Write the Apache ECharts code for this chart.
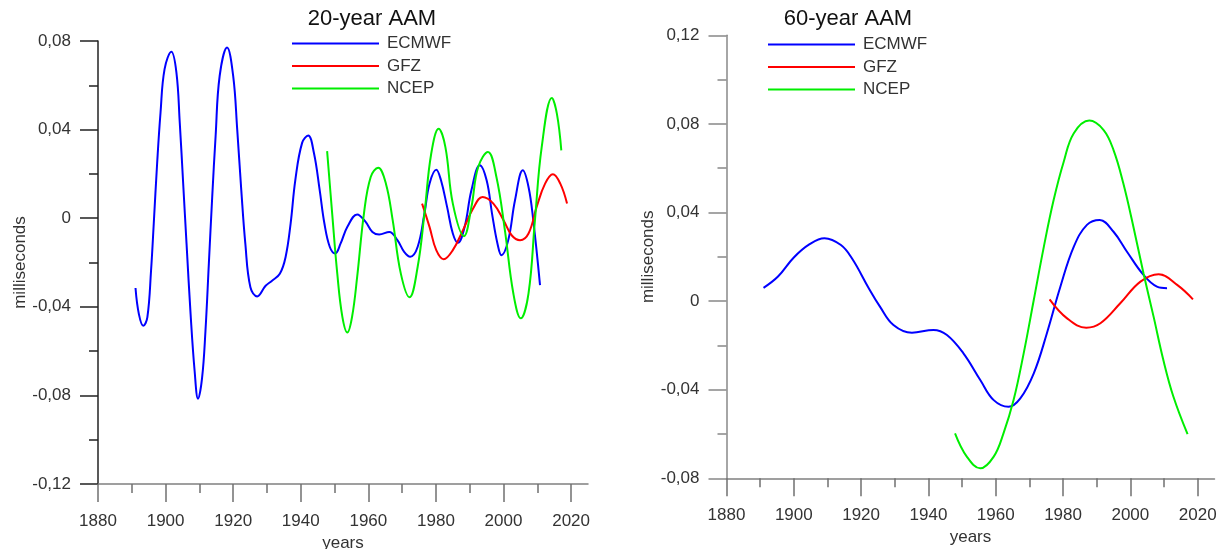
<!DOCTYPE html>
<html>
<head>
<meta charset="utf-8">
<title>AAM</title>
<script src="https://cdn.jsdelivr.net/npm/echarts@6/dist/echarts.min.js"></script>
<style>
  html, body { margin: 0; padding: 0; background: #fff; }
  #chart-wrapper { width: 1223px; height: 549px; }
</style>
</head>
<body>
<div id="chart-wrapper"></div>
<script>
// [year, milliseconds]
let ecmwf20 = [
  [1891.1, -0.0315], [1892.1, -0.0433], [1893.4, -0.0486], [1894.6, -0.0448], [1895.7, -0.0236],
  [1896.5, -0.0024], [1897.5, 0.0248], [1898.5, 0.0476], [1899.7, 0.0673], [1901.7, 0.0751],
  [1903.2, 0.0658], [1904.2, 0.043], [1905.2, 0.0158], [1906.2, -0.0115], [1907.4, -0.0433],
  [1908.6, -0.0691], [1909.6, -0.0815], [1910.8, -0.0721], [1911.8, -0.0509], [1912.8, -0.0206],
  [1913.8, 0.0097], [1914.8, 0.037], [1916.0, 0.0642], [1918.2, 0.0771], [1920.0, 0.0642],
  [1921.2, 0.04], [1922.4, 0.0127], [1923.6, -0.0115], [1925.1, -0.0312], [1927.1, -0.0353],
  [1929.6, -0.0305], [1931.5, -0.0282], [1933.8, -0.0251], [1935.5, -0.0176], [1937.0, -0.0024],
  [1938.4, 0.0173], [1940.4, 0.034], [1942.2, 0.0373], [1943.9, 0.0294], [1945.6, 0.0127],
  [1947.0, -0.0024], [1948.6, -0.013], [1950.2, -0.0159], [1951.8, -0.0114], [1953.8, -0.0039],
  [1956.7, 0.0017], [1959.2, -0.0017], [1961.2, -0.0062], [1963.2, -0.0074], [1966.2, -0.0062],
  [1968.6, -0.0099], [1970.6, -0.0152], [1972.4, -0.0174], [1974.6, -0.0129], [1976.6, 0.0021],
  [1978.1, 0.0156], [1980.1, 0.0219], [1981.5, 0.0171], [1983.3, 0.0051], [1985.0, -0.0069],
  [1986.5, -0.0111], [1988.5, -0.0039], [1990.5, 0.0126], [1993.0, 0.0239], [1995.0, 0.0171],
  [1996.6, 0.0021], [1998.2, -0.0114], [1999.4, -0.0167], [2001.4, -0.0099], [2003.4, 0.0081],
  [2005.7, 0.0216], [2007.4, 0.0141], [2008.8, -0.0009], [2010.8, -0.0302]
]
let gfz20 = [
  [1975.9, 0.0066], [1978.1, -0.0039], [1980.1, -0.0144], [1982.3, -0.0185], [1985.0, -0.0144],
  [1988.0, -0.0054], [1991.0, 0.0044], [1993.8, 0.0096], [1997.0, 0.0066], [2000.0, -0.0009],
  [2002.4, -0.0077], [2004.9, -0.0099], [2007.4, -0.0069], [2009.8, 0.0051], [2012.3, 0.0156],
  [2014.6, 0.0198], [2016.8, 0.0156], [2018.8, 0.0066]
]
let ncep20 = [
  [1947.8, 0.0303], [1949.3, 0.0021], [1950.8, -0.0249], [1952.3, -0.0444], [1953.8, -0.0516],
  [1955.2, -0.0444], [1956.7, -0.0264], [1958.7, 0.0021], [1960.7, 0.0186], [1962.9, 0.0228],
  [1965.2, 0.0156], [1967.2, -0.0009], [1969.6, -0.0249], [1972.2, -0.0357], [1974.6, -0.0219],
  [1976.6, 0.0021], [1978.6, 0.0291], [1980.8, 0.0404], [1982.8, 0.0321], [1985.0, 0.0066],
  [1988.3, -0.0081], [1990.5, 0.0051], [1992.5, 0.0231], [1995.4, 0.0299], [1997.9, 0.0186],
  [2000.4, -0.0054], [2002.9, -0.0339], [2005.1, -0.0452], [2007.4, -0.0339], [2009.3, -0.0009],
  [2011.3, 0.0321], [2014.3, 0.0543], [2015.8, 0.0471], [2017.1, 0.0306]
]
let ecmwf60 = [
  [1891.0, 0.006], [1895.3, 0.0111], [1900.0, 0.0197], [1904.7, 0.0257], [1909.1, 0.0284],
  [1914.0, 0.0253], [1917.4, 0.019], [1922.1, 0.0063], [1925.6, -0.0025], [1929.6, -0.0108],
  [1935.1, -0.0143], [1941.5, -0.013], [1945.5, -0.0153], [1950.4, -0.0236], [1955.4, -0.0356],
  [1959.4, -0.0447], [1963.8, -0.0477], [1967.3, -0.0439], [1971.3, -0.0326], [1975.2, -0.0145],
  [1979.2, 0.0065], [1983.2, 0.0246], [1987.1, 0.0344], [1990.9, 0.0366], [1995.0, 0.0313],
  [1999.0, 0.0223], [2003.9, 0.0118], [2007.9, 0.0065], [2010.9, 0.0058]
]
let gfz60 = [
  [1976.0, 0.0008], [1981.2, -0.0078], [1986.9, -0.012], [1991.1, -0.01], [1997.0, -0.001],
  [2003.0, 0.0088], [2008.4, 0.0121], [2013.9, 0.0073], [2018.6, 0.0008]
]
let ncep60 = [
  [1947.9, -0.0597], [1951.4, -0.0702], [1955.4, -0.0755], [1959.4, -0.0702], [1962.3, -0.0597],
  [1965.3, -0.0447], [1968.3, -0.0236], [1971.3, 0.0005], [1974.3, 0.0246], [1977.2, 0.0456],
  [1980.2, 0.0629], [1983.2, 0.0758], [1987.8, 0.0815], [1992.0, 0.0773], [1995.0, 0.0682],
  [1997.9, 0.0532], [2000.9, 0.0336], [2003.9, 0.0126], [2006.9, -0.007], [2009.8, -0.0266],
  [2012.8, -0.0432], [2017.0, -0.0601]
]

let seriesNames = ['ECMWF', 'GFZ', 'NCEP']
let titles = ['20-year AAM', '60-year AAM']
let yearLabels = [1880, 1900, 1920, 1940, 1960, 1980, 2000, 2020]
let yearMinor = [1890, 1910, 1930, 1950, 1970, 1990, 2010]

const FONT = 'Arial, "Liberation Sans", sans-serif'
const COLORS = ['#0000ff', '#ff0000', '#00ee00']

let structureChart = echarts.init(document.getElementById('chart-wrapper'))

function fmtY(v) {
  if (Math.abs(v) < 1e-9) return '0'
  return v.toFixed(2).replace('.', ',')
}

// one panel = main x axis (labels, long ticks) + a bare x axis for the short ticks
function xAxes(gridIndex) {
  return [{
    type: 'value',
    gridIndex: gridIndex,
    position: 'bottom',
    min: 1880,
    max: 2025,
    name: 'years',
    nameLocation: 'middle',
    nameGap: 48,
    nameTextStyle: { fontSize: 17, color: '#333', fontFamily: FONT },
    axisLine: { onZero: false, lineStyle: { color: '#808080', width: 1.5 } },
    axisTick: { customValues: yearLabels, length: 18, lineStyle: { color: '#707070', width: 1.5 } },
    axisLabel: {
      customValues: yearLabels, margin: 29, fontSize: 17, color: '#333', fontFamily: FONT,
      formatter: v => String(Math.round(v))
    },
    splitLine: { show: false }
  }, {
    type: 'value',
    gridIndex: gridIndex,
    position: 'bottom',
    min: 1880,
    max: 2025,
    axisLine: { show: false, onZero: false },
    axisTick: { customValues: yearMinor, length: 9, lineStyle: { color: '#707070', width: 1.5 } },
    axisLabel: { show: false },
    splitLine: { show: false }
  }]
}

function yAxis(gridIndex, min, max, lineColor) {
  return {
    type: 'value',
    gridIndex: gridIndex,
    min: min,
    max: max,
    interval: 0.04,
    name: 'milliseconds',
    nameLocation: 'middle',
    nameGap: 68,
    nameTextStyle: { fontSize: 17, color: '#333', fontFamily: FONT },
    axisLine: { show: true, onZero: false, lineStyle: { color: lineColor, width: 1.5 } },
    axisTick: { show: true, length: 18, lineStyle: { color: lineColor, width: 1.5 } },
    minorTick: { show: true, splitNumber: 2, length: 9, lineStyle: { color: lineColor, width: 1.5 } },
    axisLabel: { margin: 27, fontSize: 17, color: '#333', fontFamily: FONT, formatter: fmtY },
    splitLine: { show: false }
  }
}

function lines(gridIndex, dataArr) {
  return dataArr.map((d, i) => ({
    name: seriesNames[i],
    type: 'line',
    xAxisIndex: gridIndex * 2,
    yAxisIndex: gridIndex,
    data: d,
    smooth: 0.4,
    symbol: 'none',
    lineStyle: { color: COLORS[i], width: 2 },
    itemStyle: { color: COLORS[i] }
  }))
}

function legend(left, top) {
  return {
    data: seriesNames,
    orient: 'vertical',
    left: left,
    top: top,
    icon: 'rect',
    itemWidth: 87,
    itemHeight: 2,
    itemGap: 5.5,
    padding: 0,
    textStyle: { fontSize: 17, color: '#333', fontFamily: FONT, padding: [0, 0, 0, 3] }
  }
}

let option = {
  animation: false,
  backgroundColor: '#fff',
  color: COLORS,
  title: [
    { text: titles[0], left: 372, top: 8, textAlign: 'center', padding: 0,
      textStyle: { fontSize: 22, fontWeight: 'normal', color: '#111', fontFamily: FONT } },
    { text: titles[1], left: 848, top: 8, textAlign: 'center', padding: 0,
      textStyle: { fontSize: 22, fontWeight: 'normal', color: '#111', fontFamily: FONT } }
  ],
  legend: [legend(292, 35), legend(768, 36)],
  // fixed plot boxes: no automatic shrinking to keep labels inside
  grid: [
    { left: 98, top: 41, width: 490, height: 443, outerBoundsMode: 'none' },
    { left: 726.5, top: 35.3, width: 488, height: 443, outerBoundsMode: 'none' }
  ],
  xAxis: xAxes(0).concat(xAxes(1)),
  yAxis: [yAxis(0, -0.12, 0.08, '#222'), yAxis(1, -0.08, 0.12, '#888')],
  series: lines(0, [ecmwf20, gfz20, ncep20]).concat(lines(1, [ecmwf60, gfz60, ncep60]))
}

structureChart.setOption(option)
window.onresize = function () {
  structureChart.resize()
}
</script>
</body>
</html>
